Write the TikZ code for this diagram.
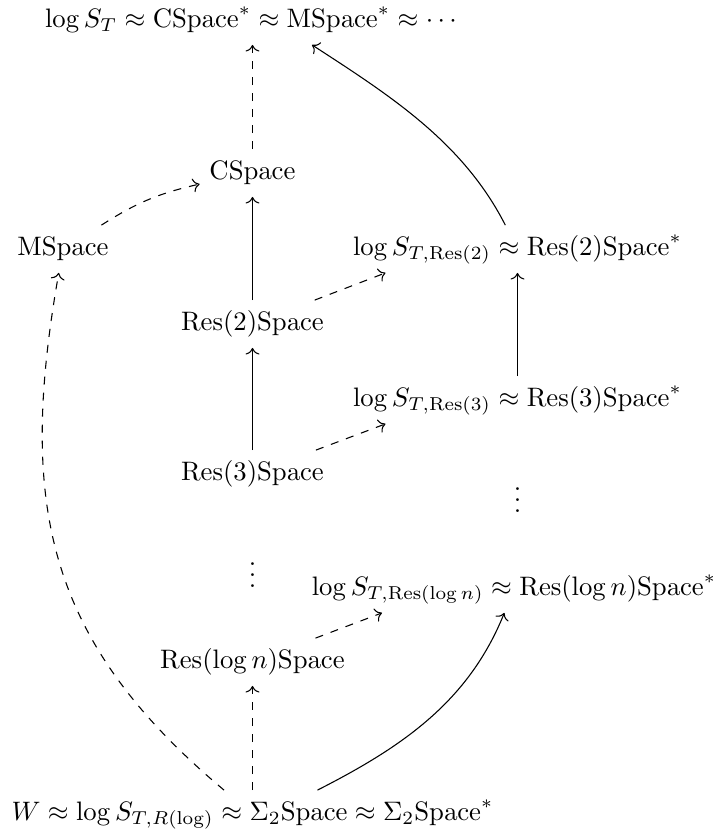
\documentclass[tikz,border=0pt]{standalone}
\usetikzlibrary{arrows.meta}
\begin{document}
\begin{tikzpicture}[x=0.3745pt,y=-0.3745pt,
  lbl/.style={anchor=base,inner xsep=3.5pt,inner ysep=3.5pt,text height=7.5pt,text depth=3pt},
  dotsnode/.style={anchor=base,inner sep=0pt},
  ar/.style={-{Computer Modern Rightarrow}},
  dar/.style={ar,dashed}]
\useasboundingbox (0,0) rectangle (718,832);
\node[lbl] (top) at (251,27) {$\log S_T \approx \mathrm{CSpace}^* \approx \mathrm{MSpace}^* \approx \cdots$};
\node[lbl] (cs) at (252.5,179) {$\mathrm{CSpace}$};
\node[lbl] (ms) at (63,255) {$\mathrm{MSpace}$};
\node[lbl] (r2s) at (517.5,255) {$\log S_{T,\mathrm{Res}(2)} \approx \mathrm{Res}(2)\mathrm{Space}^*$};
\node[lbl] (r2) at (252.5,330) {$\mathrm{Res}(2)\mathrm{Space}$};
\node[lbl] (r3s) at (517.5,406) {$\log S_{T,\mathrm{Res}(3)} \approx \mathrm{Res}(3)\mathrm{Space}^*$};
\node[lbl] (r3) at (252.5,480) {$\mathrm{Res}(3)\mathrm{Space}$};
\node[dotsnode] (rvd) at (517.5,512) {$\vdots$};
\node[dotsnode] (lvd) at (252.5,587) {$\vdots$};
\node[lbl] (rns) at (514,595) {$\log S_{T,\mathrm{Res}(\log n)} \approx \mathrm{Res}(\log n)\mathrm{Space}^*$};
\node[lbl] (rn) at (252.5,668) {$\mathrm{Res}(\log n)\mathrm{Space}$};
\node[lbl] (bot) at (252.5,820) {$W \approx \log S_{T,R(\log)} \approx \Sigma_2\mathrm{Space} \approx \Sigma_2\mathrm{Space}^*$};
% vertical arrows
\draw[dar] (cs) -- (cs |- top.south);
\draw[ar] (r2) -- (cs);
\draw[ar] (r3) -- (r2);
\draw[ar] (r3s) -- (r2s);
\draw[dar] (bot) -- (rn);
% diagonal dashed arrows
\draw[dar] (ms) to[bend left=10] (cs);
\draw[dar] (r2) -- ([shift={(-132,0)}]r2s.south);
\draw[dar] (r3) -- ([shift={(-132,0)}]r3s.south);
\draw[dar] (rn) -- ([shift={(-132,0)}]rns.south);
% curved arrows
\draw[ar] (r2s) to[out=117,in=-33,looseness=0.9] ([shift={(61,0)}]top.south);
\draw[dar] (bot) to[out=140,in=-100,looseness=1.1] (ms);
\draw[ar] ([shift={(65,0)}]bot.north) to[out=27,in=-112,looseness=0.95] (rns);
\end{tikzpicture}
\end{document}
